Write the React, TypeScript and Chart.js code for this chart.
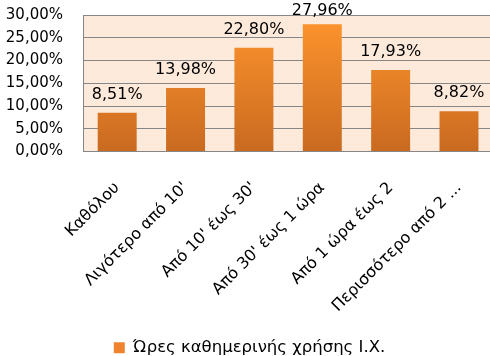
import React, { useEffect, useRef } from "react";
import { Chart, registerables } from "chart.js";

Chart.register(...registerables);

const categories = [
  "Καθόλου",
  "Λιγότερο από 10'",
  "Από 10' έως 30'",
  "Από 30' έως 1 ώρα",
  "Από 1 ώρα έως 2",
  "Περισσότερο από 2 ...",
];
const values = [8.51, 13.98, 22.8, 27.96, 17.93, 8.82];
const seriesName = "Ώρες καθημερινής χρήσης Ι.Χ.";
const yMax = 30;
const yStep = 5;

const FONT = "'DejaVu Sans', sans-serif";
const fmt = (v: number) => v.toFixed(2).replace(".", ",") + "%";

export default function App() {
  const ref = useRef<HTMLCanvasElement | null>(null);
  useEffect(() => {
    const canvas = ref.current!;
    const bgPlugin = {
      id: "plotBg",
      beforeDraw(chart: any) {
        const { ctx, chartArea } = chart;
        ctx.save();
        ctx.fillStyle = "#FDEADA";
        ctx.fillRect(chartArea.left, chartArea.top, chartArea.right - chartArea.left, chartArea.bottom - chartArea.top);
        ctx.restore();
      },
    };
    const labelPlugin = {
      id: "valLabels",
      afterDatasetsDraw(chart: any) {
        const { ctx } = chart;
        const meta = chart.getDatasetMeta(0);
        ctx.save();
        ctx.font = "16px " + FONT;
        ctx.fillStyle = "#000";
        ctx.textAlign = "center";
        ctx.textBaseline = "alphabetic";
        meta.data.forEach((el: any, i: number) => {
          ctx.fillText(fmt(values[i]), el.x, Math.max(el.y - 14, 15));
        });
        ctx.restore();
      },
    };
    const chart = new Chart(canvas, {
      type: "bar",
      data: {
        labels: categories,
        datasets: [
          {
            label: seriesName,
            data: values,
            backgroundColor: (c: any) => {
              const { ctx, chartArea } = c.chart;
              if (!chartArea) return "#F79646";
              const el = c.element;
              const top = el && el.y != null ? el.y : chartArea.top;
              const g = ctx.createLinearGradient(0, top, 0, chartArea.bottom);
              g.addColorStop(0, "#FF952D");
              g.addColorStop(1, "#C96A20");
              return g;
            },
            barPercentage: 0.57,
            categoryPercentage: 1,
          },
        ],
      },
      options: {
        animation: false,
        responsive: false,
        maintainAspectRatio: false,
        layout: { padding: { left: 4, right: 5, top: 15, bottom: -10 } },
        scales: {
          x: {
            grid: { display: false, drawTicks: false },
            border: { display: true, color: "#868686", width: 1 },
            afterFit: (s: any) => {
              s.height = 187;
            },
            ticks: {
              autoSkip: false,
              minRotation: 45,
              maxRotation: 45,
              font: { family: FONT, size: 16 },
              color: "#000",
              padding: 27,
            },
          },
          y: {
            min: 0,
            max: yMax,
            afterFit: (s: any) => {
              s.width = 79;
            },
            ticks: {
              stepSize: yStep,
              autoSkip: false,
              font: { family: FONT, size: 15 },
              color: "#000",
              padding: 2,
              callback: (v: any) => fmt(Number(v)),
            },
            grid: { color: "#868686", drawTicks: true, tickLength: 18, tickColor: "rgba(0,0,0,0)" },
            border: { display: true, color: "#868686", width: 1 },
          },
        },
        plugins: {
          legend: {
            position: "bottom",
            labels: {
              boxWidth: 11,
              boxHeight: 11,
              padding: 1,
              font: { family: FONT, size: 16.5 },
              color: "#000",
              generateLabels: () => [
                {
                  text: seriesName,
                  fillStyle: "#EE8430",
                  strokeStyle: "rgba(0,0,0,0)",
                  lineWidth: 0,
                  datasetIndex: 0,
                },
              ],
            },
          },
          tooltip: { enabled: false },
        },
      },
      plugins: [bgPlugin, labelPlugin],
    });
    return () => chart.destroy();
  }, []);
  return (
    <div style={{ position: "absolute", left: 0, top: 0, width: 490, height: 356, overflow: "hidden", background: "#fff" }}>
      <canvas ref={ref} width={500} height={356} style={{ width: 500, height: 356, display: "block" }} />
    </div>
  );
}
